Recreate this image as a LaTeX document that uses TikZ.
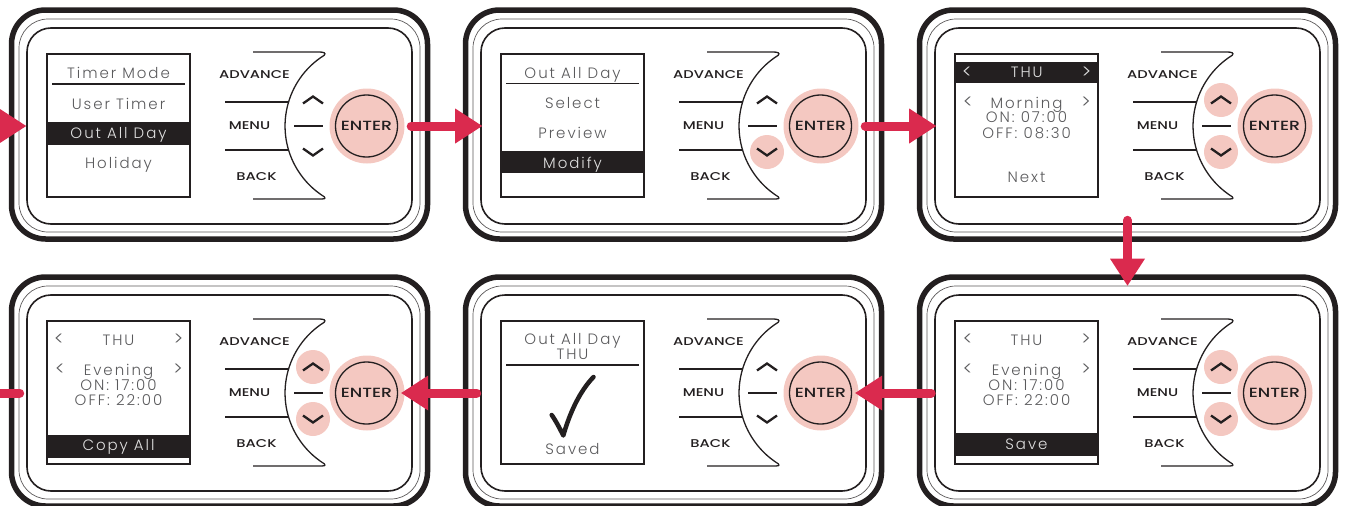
\documentclass[tikz,border=0pt]{standalone}
\usepackage{fontspec}
\usetikzlibrary{arrows.meta}
\setmainfont{Poppins}
\IfFontExistsTF{Poppins Light}
  {\newfontfamily\scrfont[LetterSpace=13]{Poppins Light}}
  {\newfontfamily\scrfont[LetterSpace=13]{Poppins}}
\IfFontExistsTF{Poppins Medium}
  {\newfontfamily\keyfont[FakeStretch=1.3]{Poppins Medium}}
  {\newfontfamily\keyfont[FakeStretch=1.3]{Poppins}}

\definecolor{ink}{RGB}{35,31,32}
\definecolor{scrgray}{RGB}{90,90,92}
\definecolor{invtext}{RGB}{225,225,225}
\definecolor{halopink}{RGB}{244,200,193}
\definecolor{flowred}{RGB}{218,42,78}

\tikzset{
  case/.style={draw=ink, line width=5.5pt, rounded corners=34pt, minimum width=416pt, minimum height=229pt, inner sep=0pt},
  rim/.style={draw=ink!75, line width=0.7pt, rounded corners=29pt, minimum width=401pt, minimum height=213pt, inner sep=0pt},
  body/.style={draw=ink, line width=1.6pt, rounded corners=24pt, minimum width=385pt, minimum height=196pt, inner sep=0pt},
  screen/.style={draw=ink, line width=1.3pt, minimum size=143pt, inner sep=0pt},
  keyline/.style={draw=ink, line width=1.3pt},
  chev/.style={draw=ink, line width=2.3pt},
  halo/.style={circle, fill=halopink, minimum size=75pt, inner sep=0pt},
  hilite/.style={circle, fill=halopink, minimum size=34pt, inner sep=0pt},
  enterkey/.style={circle, draw=ink, line width=1.3pt, minimum size=62pt, inner sep=0pt, font=\keyfont\fontsize{13.3}{14}\selectfont, text=ink},
  keylabel/.style={font=\keyfont\fontsize{11.3}{12}\selectfont, text=ink, inner sep=0pt},
  scr/.style={font=\scrfont\fontsize{15}{16}\selectfont, text=scrgray, anchor=base, inner sep=0pt},
  inv/.style={scr, text=invtext},
  arrowkey/.style={scr, font=\scrfont\fontsize{19}{20}\selectfont},
  band/.style={fill=ink},
  rule/.style={draw=ink, line width=1.3pt},
  tick/.style={draw=ink, line width=4.5pt, line cap=round, line join=round},
  flow/.style={draw=flowred, line width=9pt, line cap=round, -{Triangle[length=27pt, width=35pt, line width=0pt]}},
}

% frame, keys and ENTER button of one controller
\newcommand{\devicepanel}[1]{%
  \node[case] (#1case) at (219.5,124.5) {};
  \node[rim] (#1rim) at (219.5,125.5) {};
  \node[body] (#1body) at (219.5,126) {};
  \node[screen] (#1screen) at (118.5,125.5) {};
  \draw[keyline] (253,52) -- (319,52) .. controls (324,52) and (326,53) .. (324.3,55.2)
    arc[start angle=238, end angle=122, radius=83.5]
    .. controls (326,199) and (324,199) .. (319,199) -- (253,199);
  \draw[keyline] (225,102) -- (288.5,102);
  \draw[keyline] (225,150) -- (288.5,150);
  \draw[keyline] (294,126) -- (323,126);
  \draw[chev] (303,103.5) -- (313,96.5) -- (323,103.5);
  \draw[chev] (303,148.5) -- (313,155.5) -- (323,148.5);
  \node[halo] (#1enter) at (367,126) {};
  \node[enterkey] (#1key) at (366.5,126) {ENTER};
  \node[keylabel] (#1adv) at (254.5,74.5) {ADVANCE};
  \node[keylabel] (#1menu) at (249.5,126) {MENU};
  \node[keylabel] (#1back) at (256.5,177) {BACK};
}

\begin{document}
\begin{tikzpicture}[x=1pt, y=-1pt]
  \useasboundingbox (0,0) rectangle (1347,506);

  % timer mode menu
  \begin{scope}
    \devicepanel{timer}
    \node[scr] (timerhead) at (118.5,78.3) {Timer Mode};
    \draw[rule] (52,84) -- (185,84);
    \node[scr] (timeruser) at (118.5,109.3) {User Timer};
    \fill[band] (47,122) rectangle (190,145);
    \node[inv] (timeroad) at (118.5,138.8) {Out All Day};
    \node[scr] (timerhol) at (118.5,168.3) {Holiday};
  \end{scope}

  % out all day menu
  \begin{scope}[shift={(454,0)}]
    \node[hilite] (modifydown) at (313,152) {};
    \devicepanel{modify}
    \node[scr] (modifyhead) at (118.5,78.3) {Out All Day};
    \draw[rule] (52,83.5) -- (185,83.5);
    \node[scr] (modifysel) at (118.5,108.3) {Select};
    \node[scr] (modifyprev) at (118.5,138.3) {Preview};
    \fill[band] (47,151) rectangle (190,173);
    \node[inv] (modifymod) at (118.5,168) {Modify};
  \end{scope}

  % morning times
  \begin{scope}[shift={(908,0)}]
    \node[hilite] (morningup) at (313,100) {};
    \node[hilite] (morningdown) at (313,152) {};
    \devicepanel{morning}
    \fill[band] (47,62) rectangle (190,83);
    \node[arrowkey, text=invtext] (morningdl) at (59,78.3) {<};
    \node[inv] (morningday) at (118.7,77.8) {THU};
    \node[arrowkey, text=invtext] (morningdr) at (178.5,78.3) {>};
    \node[arrowkey] (morningpl) at (60,108.3) {<};
    \node[scr] (morningper) at (118.5,108) {Morning};
    \node[arrowkey] (morningpr) at (178,108.3) {>};
    \node[scr] (morningon) at (118.5,122.6) {ON: 07:00};
    \node[scr] (morningoff) at (118.5,138) {OFF: 08:30};
    \node[scr] (morningnext) at (118.5,182) {Next};
  \end{scope}

  % evening times, save
  \begin{scope}[shift={(908,267)}]
    \node[hilite] (eveningup) at (313,100) {};
    \node[hilite] (eveningdown) at (313,152) {};
    \devicepanel{evening}
    \node[arrowkey] (eveningdl) at (59.7,78.8) {<};
    \node[scr] (eveningday) at (118.5,78.3) {THU};
    \node[arrowkey] (eveningdr) at (178,78.8) {>};
    \node[arrowkey] (eveningpl) at (59.7,108.8) {<};
    \node[scr] (eveningper) at (118.5,108.3) {Evening};
    \node[arrowkey] (eveningpr) at (178,108.8) {>};
    \node[scr] (eveningon) at (118.5,123.3) {ON: 17:00};
    \node[scr] (eveningoff) at (118.5,138.3) {OFF: 22:00};
    \fill[band] (47,166) rectangle (190,189);
    \node[inv] (eveningsave) at (118.5,182.3) {Save};
  \end{scope}

  % saved
  \begin{scope}[shift={(454,267)}]
    \devicepanel{saved}
    \node[scr] (savedhead) at (118.5,77.3) {Out All Day};
    \node[scr] (savedday) at (118.5,92.3) {THU};
    \draw[rule] (52,98) -- (185,98);
    \draw[tick] (97.7,148) .. controls (102,154) and (106,162) .. (109.3,168.5)
      .. controls (116,145) and (126,124) .. (139.5,110);
    \node[scr] (savedtext) at (118.5,187) {Saved};
  \end{scope}

  % copy all
  \begin{scope}[shift={(0,267)}]
    \node[hilite] (copyup) at (313,100) {};
    \node[hilite] (copydown) at (313,152) {};
    \devicepanel{copy}
    \node[arrowkey] (copydl) at (59,78.8) {<};
    \node[scr] (copyday) at (118.5,78.3) {THU};
    \node[arrowkey] (copydr) at (178.5,78.8) {>};
    \node[arrowkey] (copypl) at (60,108.8) {<};
    \node[scr] (copyper) at (118.5,108.3) {Evening};
    \node[arrowkey] (copypr) at (178,108.8) {>};
    \node[scr] (copyon) at (118.5,123.3) {ON: 17:00};
    \node[scr] (copyoff) at (118.5,138.3) {OFF: 22:00};
    \fill[band] (47,168) rectangle (190,190.5);
    \node[inv] (copyall) at (118.5,183.5) {Copy All};
  \end{scope}

  % flow between the screens
  \coordinate (entry) at (-40,126);
  \coordinate (exit) at (-40,393);
  \draw[flow] (entry) -- (timerbody.west);
  \draw[flow, shorten <=6.5pt, shorten >=-2pt] (timerenter.east) -- (modifybody.west);
  \draw[flow, shorten <=6.5pt, shorten >=-2pt] (modifyenter.east) -- (morningbody.west);
  \draw[flow, shorten <=-4.5pt] (morningbody.south) -- (eveningrim.north);
  \draw[flow, shorten <=3pt, shorten >=-3.5pt] (eveningbody.west) -- (savedenter.east);
  \draw[flow, shorten <=3.5pt, shorten >=-3.5pt] (savedbody.west) -- (copyenter.east);
  \draw[flow, shorten <=6.5pt] (copybody.west) -- (exit);
\end{tikzpicture}
\end{document}
